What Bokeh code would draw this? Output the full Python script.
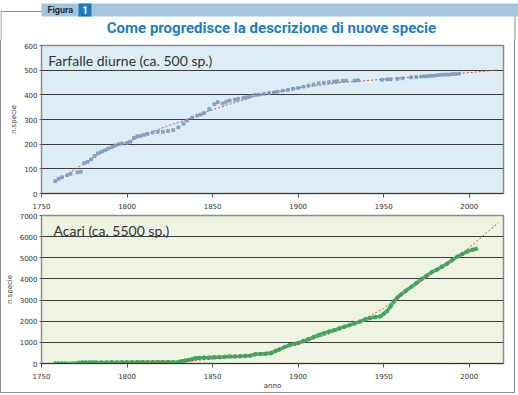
from bokeh.plotting import figure
from bokeh.layouts import column
from bokeh.models import Range1d, Label, FixedTicker
from bokeh.embed import file_html
from bokeh.resources import INLINE
from bokeh.core.properties import value

# ---------------- data ----------------
title_text = "Come progredisce la descrizione di nuove specie"
tag_text = "Figura"
tag_num = "1"
x_ticks = [1750, 1800, 1850, 1900, 1950, 2000]
top_ticks = [0, 100, 200, 300, 400, 500, 600]
bot_ticks = [0, 1000, 2000, 3000, 4000, 5000, 6000, 7000]
top_label = "Farfalle diurne (ca. 500 sp.)"
bot_label = "Acari (ca. 5500 sp.)"
y_title = "n.specie"
x_title = "anno"

butter_year = [1758, 1760, 1762, 1765, 1767, 1771, 1773, 1775, 1777, 1779, 1781, 1783, 1785,
               1787, 1789, 1791, 1793, 1795, 1797, 1800, 1802, 1804, 1806, 1808, 1810, 1812,
               1815, 1818, 1821, 1824, 1827, 1830, 1833, 1835, 1838, 1841, 1843, 1845, 1848,
               1851, 1853, 1856, 1858, 1860, 1863, 1865, 1868, 1870, 1872, 1875, 1877, 1880,
               1883, 1886, 1888, 1891, 1894, 1897, 1900, 1903, 1906, 1909, 1912, 1915, 1918,
               1921, 1923, 1926, 1928, 1933, 1935, 1949, 1952, 1954, 1958, 1961, 1966, 1969,
               1972, 1974, 1976, 1978, 1980, 1982, 1984, 1986, 1988, 1990, 1992, 1994]
butter_n = [50, 60, 66, 74, 80, 86, 88, 123, 128, 138, 152, 163, 170,
            175, 182, 188, 195, 200, 203, 205, 210, 225, 232, 234, 238, 242,
            247, 250, 250, 253, 257, 268, 283, 296, 308, 316, 320, 326, 342,
            362, 370, 365, 372, 377, 380, 384, 388, 390, 394, 400, 401, 404,
            407, 410, 413, 417, 420, 424, 428, 433, 437, 442, 447, 449, 451,
            454, 455, 457, 458, 458, 459, 461, 463, 463, 465, 467, 471, 472,
            474, 475, 476, 477, 478, 480, 481, 482, 482, 484, 484, 486]
butter_trend_year = [1758, 1770, 1780, 1790, 1800, 1810, 1823, 1835, 1850, 1860, 1875, 1890,
                     1900, 1925, 1950, 1975, 2000, 2017]
butter_trend_n = [45, 100, 145, 182, 208, 238, 272, 300, 340, 362, 395, 415,
                  428, 450, 463, 477, 490, 501]

acari_year = [1758, 1760, 1762, 1764, 1772, 1774, 1776, 1778, 1780, 1782, 1785, 1788, 1791,
              1794, 1797, 1800, 1803, 1806, 1809, 1812, 1815, 1818, 1821, 1824, 1827, 1830,
              1832, 1834, 1836, 1838, 1840, 1842, 1845, 1848, 1851, 1854, 1857, 1860, 1863,
              1866, 1869, 1872, 1875, 1878, 1881, 1884, 1887, 1889, 1892, 1895, 1898, 1900,
              1903, 1906, 1909, 1912, 1915, 1918, 1921, 1924, 1927, 1930, 1933, 1936, 1939,
              1942, 1945, 1948, 1950, 1952, 1954, 1956, 1958, 1960, 1963, 1966, 1969, 1972,
              1975, 1978, 1981, 1984, 1987, 1990, 1993, 1996, 1999, 2002, 2004]
acari_n = [0, 0, 0, 0, 40, 50, 45, 50, 55, 50, 45, 50, 55,
           50, 55, 60, 65, 60, 70, 65, 60, 70, 65, 70, 60, 75,
           110, 140, 170, 200, 250, 265, 275, 280, 290, 295, 315, 330, 335,
           340, 355, 370, 440, 450, 460, 480, 600, 660, 780, 870, 930, 970,
           1060, 1150, 1250, 1350, 1430, 1510, 1580, 1660, 1740, 1815, 1900, 1980, 2080,
           2150, 2190, 2230, 2350, 2480, 2700, 2940, 3120, 3260, 3440, 3620, 3800, 3990,
           4150, 4320, 4440, 4580, 4720, 4890, 5050, 5180, 5300, 5380, 5420]
acari_trend_year = [1758, 1790, 1820, 1840, 1860, 1880, 1900, 1920, 1935, 1950, 1957, 1975,
                    1990, 2000, 2017]
acari_trend_n = [0, 10, 50, 140, 290, 500, 920, 1450, 1960, 2600, 3050, 4060,
                 4880, 5480, 6660]

# ---------------- styles ----------------
FRAME = "#8c8c8c"
TICK_FONT = "DejaVu Sans"
BLUE = "#1b7fc2"


def style_chart(p, yticks):
    p.xgrid.visible = False
    p.ygrid.ticker = FixedTicker(ticks=yticks)
    p.ygrid.grid_line_color = "#3c3c3c"
    p.ygrid.grid_line_width = 1
    p.xaxis.ticker = FixedTicker(ticks=x_ticks)
    p.yaxis.ticker = FixedTicker(ticks=yticks)
    for ax in (p.xaxis, p.yaxis):
        ax.major_label_text_font = TICK_FONT
        ax.major_label_text_font_size = "7px"
        ax.major_label_text_color = "#333333"
        ax.axis_label_text_font = TICK_FONT
        ax.axis_label_text_font_size = "7px"
        ax.axis_label_text_font_style = "normal"
        ax.axis_label_text_color = "#333333"
        ax.minor_tick_line_color = None
        ax.major_tick_line_color = "#555555"
        ax.major_tick_in = 0
    p.xaxis.axis_line_color = "#333333"
    p.xaxis.major_tick_out = 4
    p.xaxis.major_label_standoff = 5
    p.yaxis.axis_line_color = FRAME
    p.yaxis.major_tick_out = 2
    p.yaxis.major_label_standoff = 2
    p.yaxis.axis_label = y_title
    p.yaxis.axis_label_standoff = 3
    p.outline_line_color = FRAME
    p.outline_line_width = 1.5


# ---------------- header ----------------
head = figure(width=518, height=40, x_range=Range1d(0, 518), y_range=Range1d(40, 0),
              output_backend="svg", toolbar_location=None, min_border=0,
              outline_line_color=None)
head.axis.visible = False
head.grid.visible = False
head.quad(left=[41], right=[518], top=[3], bottom=[16], fill_color="#a3c6de", line_color=None)
head.quad(left=[78], right=[91], top=[3], bottom=[16], fill_color="#1b7cc0", line_color=None)
head.line([0.5, 0.5, 41], [40, 11, 11], line_color=FRAME, line_width=1)
head.line([514.5, 514.5], [16, 40], line_color=FRAME, line_width=1)
head.text(x=[47], y=[9.5], text=[tag_text], text_font=value("Roboto"), text_font_size="9px",
          text_font_style="bold", text_color="#2a2a2a", text_baseline="middle")
head.text(x=[84.5], y=[9.5], text=[tag_num], text_font=value("Roboto"), text_font_size="10px",
          text_font_style="bold", text_color="white", text_baseline="middle", text_align="center")
head.text(x=[271], y=[27], text=[title_text], text_font=value("Roboto"), text_font_size="15px",
          text_font_style="bold", text_color=BLUE, text_baseline="middle", text_align="center")

# ---------------- top chart ----------------
p1 = figure(width=513, height=172, x_range=Range1d(1750, 2020), y_range=Range1d(0, 600),
            output_backend="svg", toolbar_location=None,
            min_border_left=40, min_border_right=11, min_border_top=5, min_border_bottom=19,
            background_fill_color="#dcedf5", border_fill_color="white")
style_chart(p1, top_ticks)
p1.line(butter_trend_year, butter_trend_n, line_color="#c8504a", line_dash="2 2", line_width=1)
p1.scatter(butter_year, butter_n, marker="square", size=2.8, fill_color="#7896bd",
           line_color="#7896bd", alpha=0.8)
p1.add_layout(Label(x=1754, y=505, text=top_label, text_font="Lato", text_font_size="14px",
                    text_color="#333333"))

# ---------------- bottom chart ----------------
p2 = figure(width=513, height=180, x_range=Range1d(1750, 2020), y_range=Range1d(0, 7000),
            output_backend="svg", toolbar_location=None,
            min_border_left=40, min_border_right=11, min_border_top=3, min_border_bottom=26,
            background_fill_color="#eff4e2", border_fill_color="white")
style_chart(p2, bot_ticks)
p2.xaxis.axis_label = x_title
p2.xaxis.axis_label_standoff = 0
p2.line(acari_year, acari_n, line_color="#4cb46c", line_width=3.5)
p2.scatter(acari_year, acari_n, size=3.5, fill_color="#3aa85e", line_color="#3aa85e")
p2.line(acari_trend_year, acari_trend_n, line_color="#c8504a", line_dash="2 2", line_width=1)
p2.add_layout(Label(x=1757, y=5870, text=bot_label, text_font="Lato", text_font_size="14px",
                    text_color="#333333"))

inner = column(p1, p2, spacing=0,
               styles={"border-left": "1px solid #8c8c8c", "border-right": "1px solid #8c8c8c",
                       "border-bottom": "1px solid #8c8c8c"})
layout = column(head, inner, spacing=0)

open("out.html", "w").write(file_html(layout, INLINE))
